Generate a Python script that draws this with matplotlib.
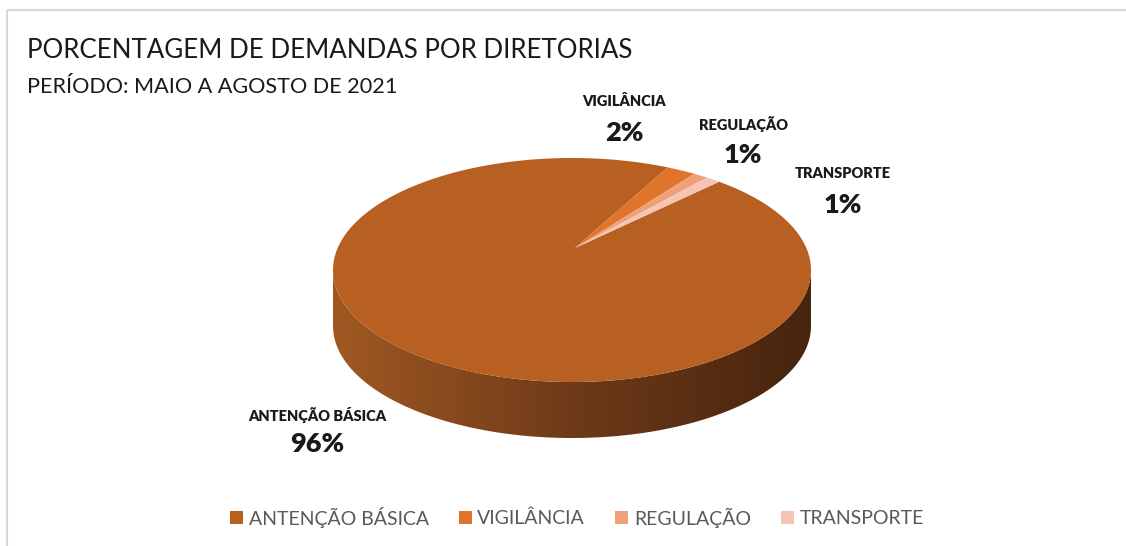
import numpy as np
import matplotlib.pyplot as plt
from matplotlib.patches import Polygon, Rectangle, Patch

# data
categories = ["ANTENÇÃO BÁSICA", "VIGILÂNCIA", "REGULAÇÃO", "TRANSPORTE"]
shares = [96, 2, 1, 1]
colors = ["#B85F22", "#E0742A", "#F0A078", "#F5C4B2"]

plt.rcParams['font.family'] = ['Lato', 'DejaVu Sans']

W, H = 1126, 546
fig = plt.figure(figsize=(W / 100, H / 100), dpi=100)
ax = fig.add_axes([0, 0, 1, 1])
ax.set_xlim(0, W)
ax.set_ylim(H, 0)
ax.axis('off')

# chart frame (cut at right / bottom)
ax.add_patch(Rectangle((7, 10), W + 20, H + 20, fill=False, ec="#D9D9D9", lw=1.5))

ax.text(27, 58, "PORCENTAGEM DE DEMANDAS POR DIRETORIAS", fontsize=18.6, color="#1a1a1a")
ax.text(27, 93, "PERÍODO: MAIO A AGOSTO DE 2021", fontsize=15.6, color="#1a1a1a")

# pie geometry (pixel space)
cx, cy, rx, ry = 572, 270, 239, 112
apex = (575, 248)
depth = 56
start = 52.0  # angle where first slice starts, slices go clockwise


def rim(t, dy=0.0):
    t = np.deg2rad(t)
    return np.column_stack([cx + rx * np.cos(t), cy + dy - ry * np.sin(t)])


# side band with gradient
top = rim(np.linspace(180, 360, 200))
bot = rim(np.linspace(360, 180, 200), depth)
side = Polygon(np.vstack([top, bot]), closed=True, fc="none", ec="none")
ax.add_patch(side)
grad = np.linspace(0, 1, 256)[None, :]
c0 = np.array([160, 88, 34]) / 255
c1 = np.array([110, 58, 24]) / 255
c2 = np.array([70, 36, 14]) / 255
rgb = np.where(grad[..., None] < 0.5,
               c0 + (c1 - c0) * (grad[..., None] / 0.5),
               c1 + (c2 - c1) * ((grad[..., None] - 0.5) / 0.5))
im = ax.imshow(rgb, extent=(cx - rx, cx + rx, cy + ry + depth, cy), aspect='auto', zorder=1)
im.set_clip_path(side)

# top slices
total = sum(shares)
a = start
for val, col in zip(shares, colors):
    span = 360 * val / total
    ts = np.linspace(a, a - span, max(int(span), 2) * 2)
    pts = np.vstack([[apex], rim(ts)])
    ax.add_patch(Polygon(pts, closed=True, fc=col, ec="none", zorder=2))
    a -= span

# data labels
label_pos = [(317, 415, 444), (624, 101, 133), (743, 124, 155), (843, 173, 205)]
for name, val, (lx, ly1, ly2) in zip(categories, shares, label_pos):
    ax.text(lx, ly1, name, fontsize=10.5, fontweight='heavy', ha='center', va='center', color="#1a1a1a")
    ax.text(lx, ly2, f"{val}%", fontsize=19.5, fontweight='heavy', ha='center', va='center', color="#1a1a1a")

handles = [Patch(fc=c, ec="none") for c in colors]
fig.legend(handles, categories, loc='center', bbox_to_anchor=(577 / W, 1 - 517 / H), ncol=4,
           frameon=False, fontsize=14, labelcolor="#595959", handlelength=0.65, handleheight=0.65,
           handletextpad=0.3, columnspacing=1.55)

fig.savefig("out.png", dpi=100)
